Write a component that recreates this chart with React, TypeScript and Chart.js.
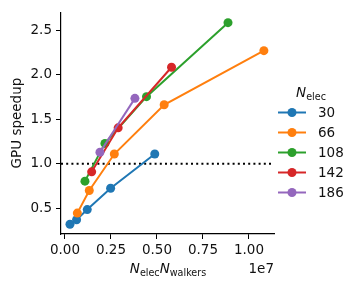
import React, { useEffect, useRef } from "react";
import { Chart, registerables } from "chart.js";

Chart.register(...registerables);

const SERIES_LABELS = ["30", "66", "108", "142", "186"];
const COLORS = ["#1f77b4", "#ff7f0e", "#2ca02c", "#d62728", "#9467bd"];

const X_30 = [2.7e5, 6.3e5, 1.21e6, 2.48e6, 4.88e6];
const Y_30 = [0.32, 0.37, 0.485, 0.725, 1.11];
const X_66 = [6.7e5, 1.32e6, 2.68e6, 5.39e6, 1.081e7];
const Y_66 = [0.445, 0.7, 1.11, 1.665, 2.274];
const X_108 = [1.085e6, 2.17e6, 4.43e6, 8.86e6];
const Y_108 = [0.805, 1.23, 1.756, 2.589];
const X_142 = [1.45e6, 2.89e6, 5.79e6];
const Y_142 = [0.91, 1.405, 2.087];
const X_186 = [1.9e6, 3.8e6];
const Y_186 = [1.13, 1.737];

const XS = [X_30, X_66, X_108, X_142, X_186];
const YS = [Y_30, Y_66, Y_108, Y_142, Y_186];

const X_MIN = -0.0217e7;
const X_MAX = 1.136e7;
const Y_MIN = 0.21;
const Y_MAX = 2.708;
const X_STEP = 0.25e7;
const Y_STEP = 0.5;
const REF_Y = 1.0;

const FONT = "'DejaVu Sans', sans-serif";
const FS = 13.5;
const SUB = 9.6;
const TXT = "#111";

function drawSubLabel(
  ctx: CanvasRenderingContext2D,
  parts: [string, string][],
  cx: number,
  baseline: number
) {
  const mainFont = `italic ${FS}px ${FONT}`;
  const subFont = `${SUB}px ${FONT}`;
  let total = 0;
  const widths: [number, number][] = [];
  for (const [m, s] of parts) {
    ctx.font = mainFont;
    const w1 = ctx.measureText(m).width;
    ctx.font = subFont;
    const w2 = ctx.measureText(s).width;
    widths.push([w1, w2]);
    total += w1 + w2;
  }
  let x = cx - total / 2;
  ctx.textAlign = "left";
  ctx.textBaseline = "alphabetic";
  parts.forEach(([m, s], i) => {
    ctx.font = mainFont;
    ctx.fillText(m, x, baseline);
    x += widths[i][0];
    ctx.font = subFont;
    ctx.fillText(s, x, baseline + 3);
    x += widths[i][1];
  });
}

const extrasPlugin = {
  id: "extras",
  beforeDatasetsDraw(chart: any) {
    const { ctx, chartArea, scales } = chart;
    const y = scales.y.getPixelForValue(REF_Y);
    ctx.save();
    ctx.strokeStyle = "#000";
    ctx.lineWidth = 2;
    ctx.setLineDash([2, 3.2]);
    ctx.beginPath();
    ctx.moveTo(chartArea.left, y);
    ctx.lineTo(chartArea.right, y);
    ctx.stroke();
    ctx.restore();
  },
  afterDraw(chart: any) {
    const { ctx, chartArea } = chart;
    ctx.save();
    ctx.fillStyle = TXT;
    drawSubLabel(
      ctx,
      [
        ["N", "elec"],
        ["N", "walkers"],
      ],
      (chartArea.left + chartArea.right) / 2 + 0.5,
      273
    );
    ctx.font = `${FS}px ${FONT}`;
    ctx.textAlign = "right";
    ctx.textBaseline = "alphabetic";
    ctx.fillText("1e7", chartArea.right, 273);
    ctx.save();
    ctx.translate(17, (chartArea.top + chartArea.bottom) / 2);
    ctx.rotate(-Math.PI / 2);
    ctx.textAlign = "center";
    ctx.textBaseline = "middle";
    ctx.font = `${FS}px ${FONT}`;
    ctx.fillText("GPU speedup", 0, 0);
    ctx.restore();
    drawSubLabel(ctx, [["N", "elec"]], 311, 97);
    SERIES_LABELS.forEach((lab, i) => {
      const yy = 112.5 + i * 20;
      ctx.strokeStyle = COLORS[i];
      ctx.lineWidth = 2;
      ctx.beginPath();
      ctx.moveTo(278, yy);
      ctx.lineTo(306, yy);
      ctx.stroke();
      ctx.fillStyle = COLORS[i];
      ctx.beginPath();
      ctx.arc(292, yy, 4.5, 0, Math.PI * 2);
      ctx.fill();
      ctx.fillStyle = TXT;
      ctx.font = `${FS}px ${FONT}`;
      ctx.textAlign = "left";
      ctx.textBaseline = "middle";
      ctx.fillText(lab, 318, yy + 0.5);
    });
    ctx.restore();
  },
};

export default function App() {
  const ref = useRef<HTMLCanvasElement | null>(null);
  useEffect(() => {
    if (!ref.current) return;
    const datasets = SERIES_LABELS.map((lab, i) => ({
      label: lab,
      data: XS[i].map((x, j) => ({ x, y: YS[i][j] })),
      borderColor: COLORS[i],
      backgroundColor: COLORS[i],
      pointBackgroundColor: COLORS[i],
      pointBorderWidth: 0,
      pointRadius: 4.5,
      borderWidth: 2,
      order: SERIES_LABELS.length - i,
      showLine: true,
    }));
    const chart = new Chart(ref.current, {
      type: "scatter",
      data: { datasets },
      plugins: [extrasPlugin],
      options: {
        animation: false,
        responsive: false,
        devicePixelRatio: 1,
        layout: { padding: { left: 0, top: 9, right: 84, bottom: 0 } },
        plugins: { legend: { display: false }, tooltip: { enabled: false } },
        scales: {
          x: {
            type: "linear",
            min: X_MIN,
            max: X_MAX,
            afterFit: (s: any) => {
              s.height = 53;
            },
            afterBuildTicks: (s: any) => {
              const t = [];
              for (let v = 0; v <= X_MAX + 1; v += X_STEP) t.push({ value: v });
              s.ticks = t;
            },
            grid: {
              drawOnChartArea: false,
              drawTicks: true,
              tickLength: 5,
              color: "#000",
              tickWidth: 1,
            },
            border: { display: true, color: "#000", width: 1.2 },
            ticks: {
              padding: 3,
              color: TXT,
              font: { family: FONT, size: FS },
              maxRotation: 0,
              callback: (v: any) => (Number(v) / 1e7).toFixed(2),
            },
          },
          y: {
            type: "linear",
            min: Y_MIN,
            max: Y_MAX,
            afterFit: (s: any) => {
              s.width = 61;
            },
            afterBuildTicks: (s: any) => {
              const t = [];
              for (let v = 0.5; v <= Y_MAX + 1e-9; v += Y_STEP) t.push({ value: Math.round(v * 10) / 10 });
              s.ticks = t;
            },
            grid: {
              drawOnChartArea: false,
              drawTicks: true,
              tickLength: 5,
              color: "#000",
              tickWidth: 1,
            },
            border: { display: true, color: "#000", width: 1.2 },
            ticks: {
              padding: 4,
              color: TXT,
              font: { family: FONT, size: FS },
              callback: (v: any) => Number(v).toFixed(1),
            },
          },
        },
      },
    });
    return () => chart.destroy();
  }, []);
  return (
    <div style={{ position: "fixed", left: 0, top: 0, width: 358, height: 287, background: "#fff" }}>
      <canvas ref={ref} width={358} height={287} style={{ width: 358, height: 287 }} />
    </div>
  );
}
